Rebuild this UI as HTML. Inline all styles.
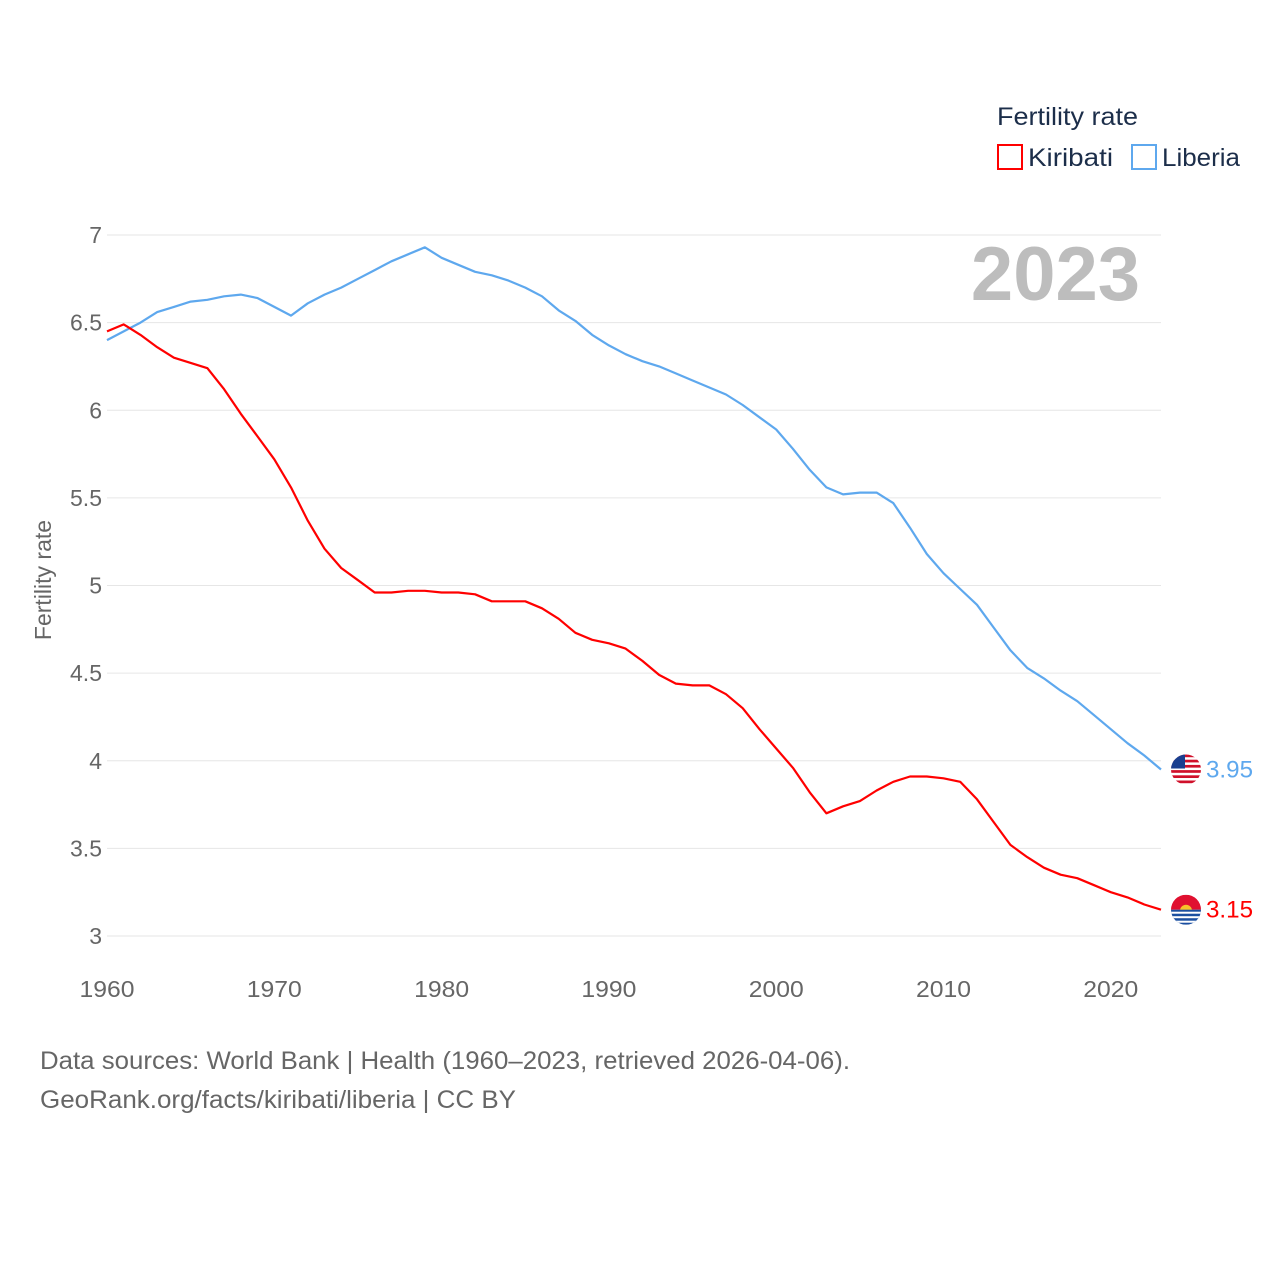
<!DOCTYPE html>
<html><head><meta charset="utf-8"><style>
html,body{margin:0;padding:0;background:#fff;}
svg{display:block;font-family:"Liberation Sans",sans-serif;}
</style></head><body>
<svg id="c" width="1280" height="1280" viewBox="0 0 1280 1280">
<g>
<text x="997" y="125" font-size="25" fill="#1c2e4a" textLength="141" lengthAdjust="spacingAndGlyphs">Fertility rate</text>
<rect x="998" y="145" width="24" height="24" fill="none" stroke="#ff0000" stroke-width="2"/>
<text x="1028" y="166" font-size="25" fill="#1c2e4a" textLength="85" lengthAdjust="spacingAndGlyphs">Kiribati</text>
<rect x="1132" y="145" width="24" height="24" fill="none" stroke="#5ea8ee" stroke-width="2"/>
<text x="1162" y="166" font-size="25" fill="#1c2e4a" textLength="78" lengthAdjust="spacingAndGlyphs">Liberia</text>
</g>
<text x="1140" y="300" font-size="76" font-weight="bold" fill="#bdbdbd" text-anchor="end">2023</text>
<text transform="translate(51,580) rotate(-90)" font-size="23" fill="#666" text-anchor="middle">Fertility rate</text>
<g id="grid"></g><g id="lines"></g><g id="ends"></g>
<text x="40" y="1069" font-size="25" fill="#666" textLength="810" lengthAdjust="spacingAndGlyphs">Data sources: World Bank | Health (1960–2023, retrieved 2026-04-06).</text>
<text x="40" y="1108" font-size="25" fill="#666" textLength="476" lengthAdjust="spacingAndGlyphs">GeoRank.org/facts/kiribati/liberia | CC BY</text>
</svg>
<script>
const years=[];for(let y=1960;y<=2023;y++)years.push(y);
const kiribati=[6.45,6.49,6.43,6.36,6.30,6.27,6.24,6.12,5.98,5.85,5.72,5.56,5.37,5.21,5.10,5.03,4.96,4.96,4.97,4.97,4.96,4.96,4.95,4.91,4.91,4.91,4.87,4.81,4.73,4.69,4.67,4.64,4.57,4.49,4.44,4.43,4.43,4.38,4.30,4.18,4.07,3.96,3.82,3.70,3.74,3.77,3.83,3.88,3.91,3.91,3.90,3.88,3.78,3.65,3.52,3.45,3.39,3.35,3.33,3.29,3.25,3.22,3.18,3.15];
const liberia=[6.40,6.45,6.50,6.56,6.59,6.62,6.63,6.65,6.66,6.64,6.59,6.54,6.61,6.66,6.70,6.75,6.80,6.85,6.89,6.93,6.87,6.83,6.79,6.77,6.74,6.70,6.65,6.57,6.51,6.43,6.37,6.32,6.28,6.25,6.21,6.17,6.13,6.09,6.03,5.96,5.89,5.78,5.66,5.56,5.52,5.53,5.53,5.47,5.33,5.18,5.07,4.98,4.89,4.76,4.63,4.53,4.47,4.40,4.34,4.26,4.18,4.10,4.03,3.95];
const yTicks=[3,3.5,4,4.5,5,5.5,6,6.5,7];
const yTickLabels=["3","3.5","4","4.5","5","5.5","6","6.5","7"];
const xTicks=[1960,1970,1980,1990,2000,2010,2020];
const NS="http://www.w3.org/2000/svg";
const X=v=>107+(v-1960)*(1161-107)/63;
const Y=v=>936-(v-3)*(936-235)/4;
function mk(tag,attrs,parent,text){const e=document.createElementNS(NS,tag);for(const k in attrs)e.setAttribute(k,attrs[k]);if(text!=null)e.textContent=text;document.getElementById(parent).appendChild(e);return e;}
yTicks.forEach((t,i)=>{
 const l=mk('line',{x1:107,x2:1161,y1:Y(t),y2:Y(t),stroke:'#e6e6e6','stroke-width':1},'grid');
 
 
 const tx=mk('text',{x:102,y:Y(t)+8,'font-size':23,fill:'#666','text-anchor':'end'},'grid',yTickLabels[i]);
 
 
});
xTicks.forEach(t=>{
 const tx=mk('text',{x:X(t),y:997,'font-size':23,fill:'#666','text-anchor':'middle',textLength:55,lengthAdjust:'spacingAndGlyphs'},'grid',String(t));
 
 
});
function line(data,color,name){
 const d=data.map((v,i)=>(i?'L':'M')+X(years[i]).toFixed(1)+','+Y(v).toFixed(1)).join('');
 const p=mk('path',{d:d,fill:'none',stroke:color,'stroke-width':2.2,'stroke-linejoin':'round'},'lines');
 
 
}
line(liberia,'#5ea8ee','line-liberia');
line(kiribati,'#ff0000','line-kiribati');
function end(data,color,name,flag){
 const v=data[data.length-1],y=Y(v),cx=1186;
 const g=mk('g',{},'ends');
 
 
 const id='clip'+name;
 const cp=document.createElementNS(NS,'clipPath');cp.setAttribute('id',id);
 const cc=document.createElementNS(NS,'circle');cc.setAttribute('cx',cx);cc.setAttribute('cy',y);cc.setAttribute('r',15);cp.appendChild(cc);g.appendChild(cp);
 const inner=document.createElementNS(NS,'g');inner.setAttribute('clip-path','url(#'+id+')');g.appendChild(inner);
 const add=(tag,a)=>{const e=document.createElementNS(NS,tag);for(const k in a)e.setAttribute(k,a[k]);inner.appendChild(e);};
 if(flag==='lr'){
  add('rect',{x:cx-15,y:y-15,width:30,height:30,fill:'#fff'});
  for(let i=0;i<6;i++)add('rect',{x:cx-15,y:y-15+i*5.2,width:30,height:2.7,fill:'#d0102a'});
  add('rect',{x:cx-15,y:y-15,width:14,height:14,fill:'#1a3f8f'});
 }else{
  add('rect',{x:cx-15,y:y-15,width:30,height:15,fill:'#e01030'});
  add('circle',{cx:cx,cy:y+1,r:6,fill:'#f7c12a'});
  add('rect',{x:cx-15,y:y,width:30,height:15,fill:'#1b4fa0'});
  for(let i=0;i<3;i++)add('rect',{x:cx-15,y:y+2+i*4.5,width:30,height:2,fill:'#fff'});
 }
 const t=mk('text',{x:1206,y:y+8,'font-size':24,fill:color,textLength:47,lengthAdjust:'spacingAndGlyphs'},'ends',v.toFixed(2));
 
 
}
end(liberia,'#5ea8ee','liberia','lr');
end(kiribati,'#ff0000','kiribati','ki');
</script>
</body></html>
